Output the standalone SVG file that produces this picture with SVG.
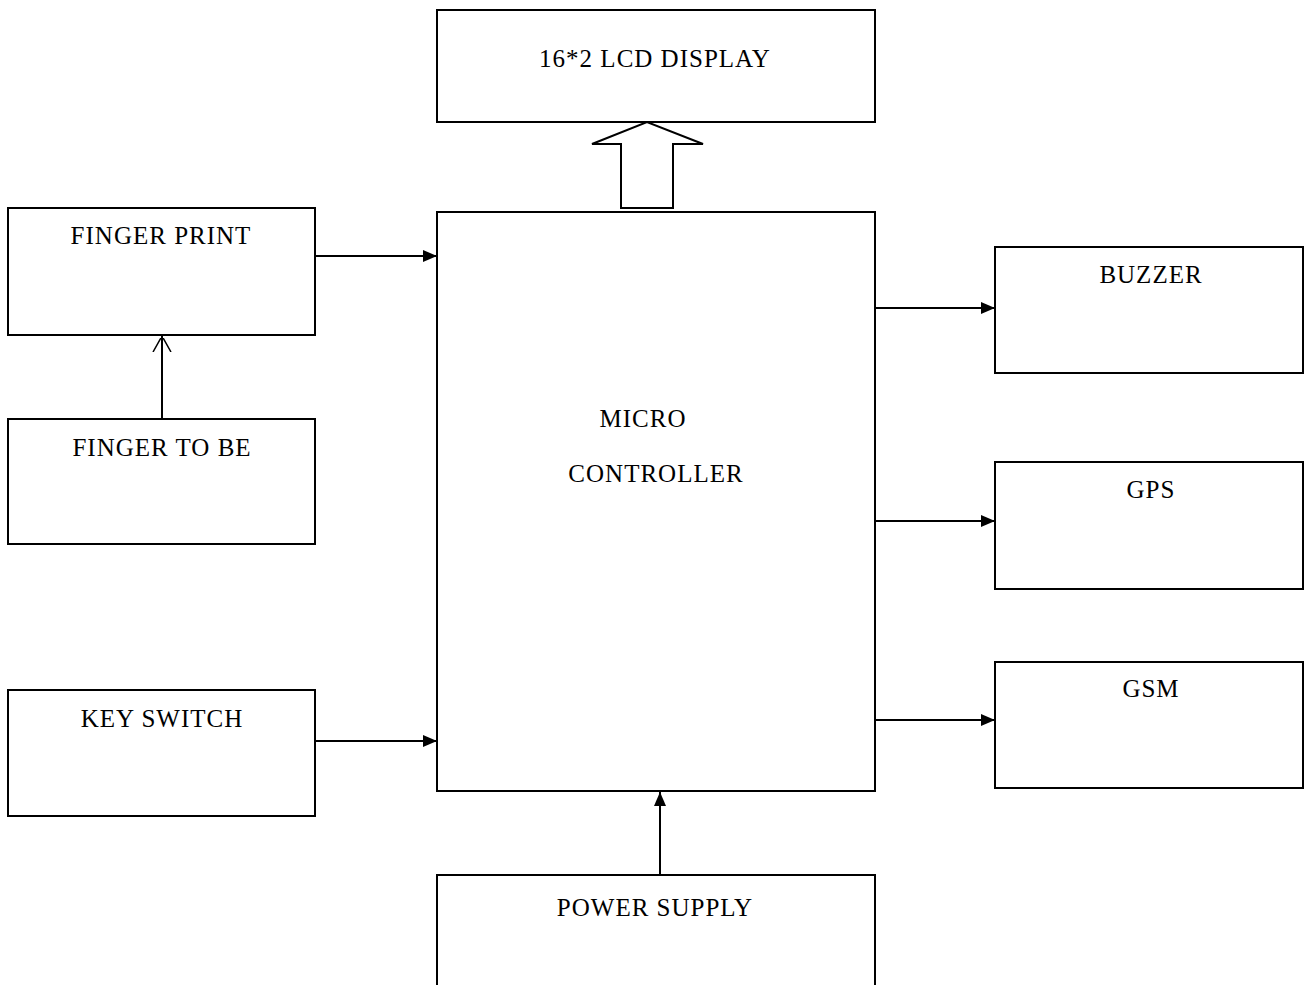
<svg xmlns="http://www.w3.org/2000/svg" width="1308" height="985" viewBox="0 0 1308 985">
<style>
.box{fill:#fff;stroke:#000;stroke-width:2}
.lbl{font-family:"Liberation Serif","Times New Roman",serif;font-size:25px;letter-spacing:1px;fill:#000;text-anchor:middle}
.conn{stroke:#000;stroke-width:2;fill:none}
</style>
<defs>
<marker id="tri" markerWidth="14" markerHeight="12" refX="14" refY="6" orient="auto" markerUnits="userSpaceOnUse">
<path d="M0,0 L14,6 L0,12 Z" fill="#000"/>
</marker>
<marker id="open" markerWidth="14" markerHeight="20" refX="16" refY="10" orient="auto" markerUnits="userSpaceOnUse">
<path d="M0,1 L16,10 L0,19" fill="none" stroke="#000" stroke-width="1.5"/>
</marker>
</defs>
<rect width="1308" height="985" fill="#fff"/>
<g id="lcd"><rect class="box" x="437" y="10" width="438" height="112"/><text class="lbl" x="655" y="67">16*2 LCD DISPLAY</text></g>
<g id="mc"><rect class="box" x="437" y="212" width="438" height="579"/><text class="lbl" x="643" y="427">MICRO</text><text class="lbl" x="656" y="482">CONTROLLER</text></g>
<g id="fp"><rect class="box" x="8" y="208" width="307" height="127"/><text class="lbl" x="161" y="244">FINGER PRINT</text></g>
<g id="ftb"><rect class="box" x="8" y="419" width="307" height="125"/><text class="lbl" x="162" y="456">FINGER TO BE</text></g>
<g id="ks"><rect class="box" x="8" y="690" width="307" height="126"/><text class="lbl" x="162" y="727">KEY SWITCH</text></g>
<g id="buzzer"><rect class="box" x="995" y="247" width="308" height="126"/><text class="lbl" x="1151" y="283">BUZZER</text></g>
<g id="gps"><rect class="box" x="995" y="462" width="308" height="127"/><text class="lbl" x="1151" y="498">GPS</text></g>
<g id="gsm"><rect class="box" x="995" y="662" width="308" height="126"/><text class="lbl" x="1151" y="697">GSM</text></g>
<g id="ps"><rect class="box" x="437" y="875" width="438" height="120"/><text class="lbl" x="655" y="916">POWER SUPPLY</text></g>
<g id="connectors">
<path d="M621,208 L621,144 L592,144 L647,122 L703,144 L673,144 L673,208 Z" fill="#fff" stroke="#000" stroke-width="2"/>
<line class="conn" x1="315" y1="256" x2="437" y2="256" marker-end="url(#tri)"/>
<line class="conn" x1="162" y1="419" x2="162" y2="336" marker-end="url(#open)"/>
<line class="conn" x1="315" y1="741" x2="437" y2="741" marker-end="url(#tri)"/>
<line class="conn" x1="875" y1="308" x2="995" y2="308" marker-end="url(#tri)"/>
<line class="conn" x1="875" y1="521" x2="995" y2="521" marker-end="url(#tri)"/>
<line class="conn" x1="875" y1="720" x2="995" y2="720" marker-end="url(#tri)"/>
<line class="conn" x1="660" y1="875" x2="660" y2="792" marker-end="url(#tri)"/>
</g>
</svg>
